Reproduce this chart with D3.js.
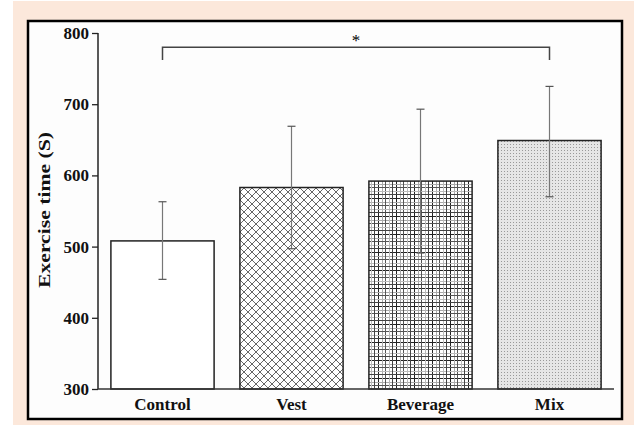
<!DOCTYPE html>
<html><head><meta charset="utf-8">
<script src="https://cdn.jsdelivr.net/npm/d3@7"></script>
<style>html,body{margin:0;padding:0;background:#fff;}svg{display:block;}</style>
</head><body>
<svg id="c" width="634" height="425"></svg>
<script>
const categories = ["Control", "Vest", "Beverage", "Mix"];
const values = [508, 583, 592, 649];
const errLow = [454, 497, 491, 570];
const errHigh = [563, 669, 693, 725];
const yTicks = [300, 400, 500, 600, 700, 800];
const yLabel = "Exercise time (S)";
const sigLabel = "*";
const sigPair = ["Control", "Mix"];
const sigLevel = 780;

const svg = d3.select("#c");
const font = "'Liberation Serif', 'Times New Roman', serif";

svg.append("rect").attr("x", 13).attr("y", 1).attr("width", 621).attr("height", 424).attr("fill", "#fce8db");
svg.append("rect").attr("x", 28).attr("y", 21).attr("width", 594).attr("height", 398)
  .attr("fill", "#fdfdfd").attr("stroke", "#000").attr("stroke-width", 2.5);

const defs = svg.append("defs");
const p1 = defs.append("pattern").attr("id", "hatch").attr("patternUnits", "userSpaceOnUse")
  .attr("width", 8).attr("height", 8);
p1.append("rect").attr("width", 8).attr("height", 8).attr("fill", "#fff");
p1.append("path").attr("d", "M0,0 L8,8 M-1,7 L1,9 M7,-1 L9,1").attr("stroke", "#666").attr("stroke-width", 1);
p1.append("path").attr("d", "M8,0 L0,8 M-1,1 L1,-1 M7,9 L9,7").attr("stroke", "#666").attr("stroke-width", 1);
const p2 = defs.append("pattern").attr("id", "grid").attr("patternUnits", "userSpaceOnUse")
  .attr("width", 18).attr("height", 18);
p2.append("rect").attr("width", 18).attr("height", 18).attr("fill", "#fff");
[[0.5, "#222"], [4.5, "#aaa"], [7.5, "#555"], [11.5, "#bbb"], [14.5, "#444"]].forEach(([o, c]) => {
  p2.append("line").attr("x1", o).attr("x2", o).attr("y1", 0).attr("y2", 18).attr("stroke", c).attr("stroke-width", 1);
  p2.append("line").attr("y1", o).attr("y2", o).attr("x1", 0).attr("x2", 18).attr("stroke", c).attr("stroke-width", 1);
});
const p3 = defs.append("pattern").attr("id", "dots").attr("patternUnits", "userSpaceOnUse")
  .attr("width", 3).attr("height", 3);
p3.append("rect").attr("width", 3).attr("height", 3).attr("fill", "#e6e6e6");
p3.append("rect").attr("width", 1).attr("height", 1).attr("fill", "#999");
const fills = ["#fff", "url(#hatch)", "url(#grid)", "url(#dots)"];

const x = d3.scaleBand().domain(categories).range([98, 614]).paddingInner(0.2).paddingOuter(0.1);
const y = d3.scaleLinear().domain([300, 800]).range([389, 33]);

const g = svg.append("g");
g.selectAll("rect.bar").data(categories).join("rect").attr("class", "bar")
  .attr("x", d => x(d)).attr("width", x.bandwidth())
  .attr("y", (d, i) => y(values[i])).attr("height", (d, i) => y(300) - y(values[i]))
  .attr("fill", (d, i) => fills[i]).attr("stroke", "#222").attr("stroke-width", 1.5);

categories.forEach((c, i) => {
  const cx = x(c) + x.bandwidth() / 2;
  g.append("line").attr("x1", cx).attr("x2", cx).attr("y1", y(errHigh[i])).attr("y2", y(errLow[i]))
    .attr("stroke", "#777").attr("stroke-width", 1.2);
  [errHigh[i], errLow[i]].forEach(v => {
    g.append("line").attr("x1", cx - 4).attr("x2", cx + 4).attr("y1", y(v)).attr("y2", y(v))
      .attr("stroke", "#555").attr("stroke-width", 1.2);
  });
});

const yAxis = d3.axisLeft(y).tickValues(yTicks).tickSize(6).tickPadding(3).tickFormat(d3.format("d"));
const ya = svg.append("g").attr("transform", "translate(98,0)").call(yAxis);
ya.select(".domain").attr("stroke", "#222").attr("stroke-width", 1.5).attr("d", "M0,33V389");
ya.selectAll(".tick line").attr("stroke", "#222").attr("stroke-width", 1.3);
ya.selectAll(".tick text").attr("font-family", font).attr("font-weight", "bold").attr("font-size", 17).attr("fill", "#111");

const xAxis = d3.axisBottom(x).tickSize(0).tickPadding(9);
const xa = svg.append("g").attr("transform", "translate(0,389)").call(xAxis);
xa.select(".domain").attr("stroke", "#333").attr("stroke-width", 1.3).attr("d", "M98,0H614");
xa.selectAll(".tick text").attr("font-family", font).attr("font-weight", "bold").attr("font-size", 17).attr("fill", "#111");

svg.append("text").attr("transform", `translate(50,210) rotate(-90)`).attr("text-anchor", "middle")
  .attr("font-family", font).attr("font-weight", "bold").attr("font-size", 17).attr("fill", "#111")
  .attr("textLength", 156).attr("lengthAdjust", "spacingAndGlyphs").text(yLabel);

const x1 = x(sigPair[0]) + x.bandwidth() / 2, x2 = x(sigPair[1]) + x.bandwidth() / 2;
svg.append("path").attr("d", `M${x1},${y(sigLevel - 18)}V${y(sigLevel)}H${x2}V${y(sigLevel - 18)}`)
  .attr("fill", "none").attr("stroke", "#444").attr("stroke-width", 1.5);
svg.append("text").attr("x", (x1 + x2) / 2).attr("y", y(sigLevel) - 1).attr("text-anchor", "middle")
  .attr("font-family", font).attr("font-size", 17).attr("fill", "#000").text(sigLabel);
</script>
</body></html>
